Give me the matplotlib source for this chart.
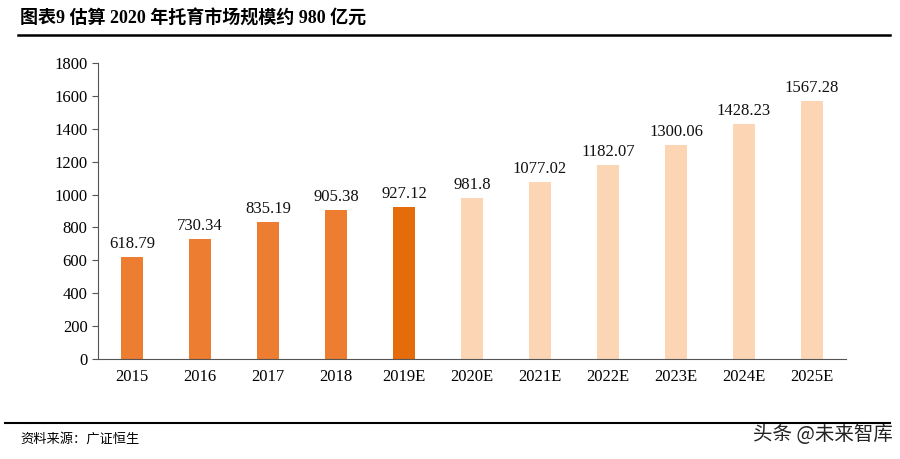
import matplotlib
matplotlib.use("Agg")
import matplotlib.pyplot as plt

categories = ["2015", "2016", "2017", "2018", "2019E", "2020E", "2021E", "2022E", "2023E", "2024E", "2025E"]
values = [618.79, 730.34, 835.19, 905.38, 927.12, 981.8, 1077.02, 1182.07, 1300.06, 1428.23, 1567.28]
labels = ["618.79", "730.34", "835.19", "905.38", "927.12", "981.8", "1077.02", "1182.07", "1300.06", "1428.23", "1567.28"]
colors = ["#ED7D31"] * 4 + ["#E46C0A"] + ["#FCD5B5"] * 6
yticks = [0, 200, 400, 600, 800, 1000, 1200, 1400, 1600, 1800]

serif = ["Liberation Serif", "Noto Sans CJK SC", "DejaVu Sans"]
plt.rcParams["font.family"] = serif

fig = plt.figure(figsize=(9, 4.59), dpi=100)
ax = fig.add_axes([98/900, 1-359/459, (846-98)/900, (359-63)/459])
x = list(range(len(categories)))
ax.bar(x, values, width=0.33, color=colors)
for xi, v, lab in zip(x, values, labels):
    ax.text(xi, v + 30, lab, ha="center", va="bottom", fontsize=12, color="#111111")
ax.set_xlim(-0.5, len(categories) - 0.5)
ax.set_ylim(0, 1800)
ax.set_yticks(yticks)
ax.set_xticks(x)
ax.set_xticklabels(categories)
ax.tick_params(axis="x", length=0, labelsize=12, pad=7)
ax.tick_params(axis="y", length=4, labelsize=12, direction="out", color="#555555")
for s in ["top", "right"]:
    ax.spines[s].set_visible(False)
for s in ["left", "bottom"]:
    ax.spines[s].set_color("#555555")
    ax.spines[s].set_linewidth(0.8)

fig.text(20/900, 1-19/459, "图表9 估算 2020 年托育市场规模约 980 亿元", ha="left", va="center",
         fontsize=13, fontweight="bold", family=serif)
fig.add_artist(plt.Line2D([18/900, 890/900], [1-35/459, 1-35/459], color="black", lw=1.8))
fig.add_artist(plt.Line2D([5/900, 890/900], [1-423/459, 1-423/459], color="black", lw=1.5))
fig.text(20/900, 1-439/459, "资料来源：广证恒生", ha="left", va="center", fontsize=9.5,
         family=["Noto Sans CJK SC", "DejaVu Sans"])
fig.text(893/900, 1-435/459, "头条 @未来智库", ha="right", va="center", fontsize=14,
         color="#222222", family=["Noto Sans CJK SC", "DejaVu Sans"])
fig.savefig("out.png", dpi=100)
